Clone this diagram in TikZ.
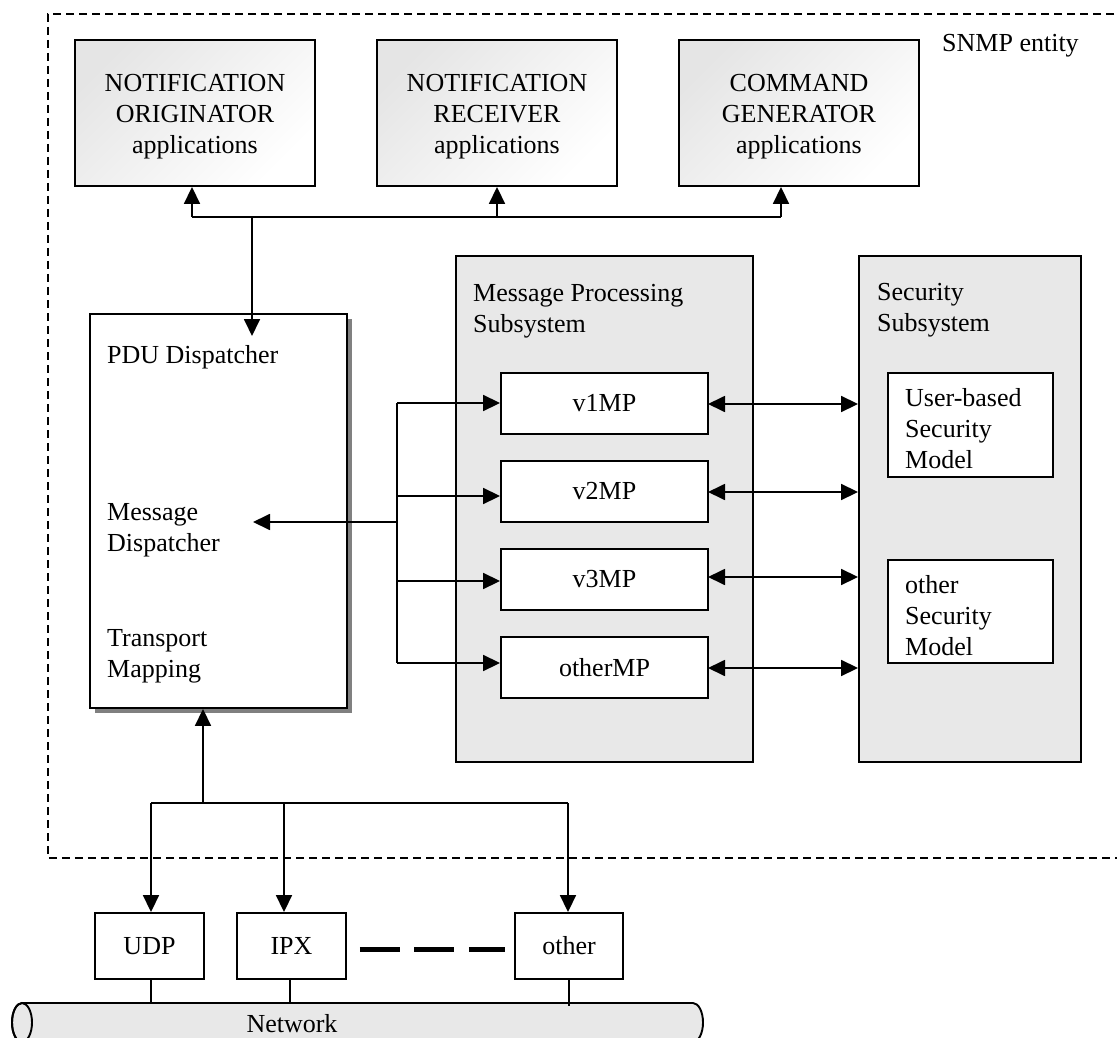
\documentclass[tikz,border=0pt]{standalone}
\usepackage{fontspec}
\setmainfont{Liberation Serif}
\usetikzlibrary{arrows.meta,calc}
\definecolor{subgray}{HTML}{E8E8E8}
\definecolor{shadowgray}{HTML}{808080}
\tikzset{
  txt/.style={font=\fontsize{26}{31}\selectfont, inner sep=0pt},
  boxline/.style={draw=black, line width=1.9pt},
  appbox/.style={boxline, minimum width=240pt, minimum height=146pt,
    top color=black!10, bottom color=white, shading angle=45},
  apptext/.style={txt, align=center},
  mpbox/.style={boxline, txt, fill=white, minimum width=207pt, minimum height=61pt},
  secbox/.style={boxline, fill=white, minimum width=165pt},
  subsys/.style={boxline, fill=subgray},
  tpbox/.style={boxline, txt, fill=white, minimum width=109pt, minimum height=66pt},
  lbl/.style={txt, align=left, anchor=west},
  conn/.style={line width=1.8pt},
  arr/.style={conn, -{Triangle[length=17pt,width=16pt]}},
  darr/.style={conn, {Triangle[length=17pt,width=16pt]}-{Triangle[length=17pt,width=16pt]}},
}
\begin{document}
\begin{tikzpicture}[x=1pt,y=-1pt]
\useasboundingbox (0,0) rectangle (1117,1038);
\clip (0,0) rectangle (1117,1038);

% SNMP entity dashed frame
\draw[line width=1.7pt, dash pattern=on 8pt off 5pt] (1140,14) -- (48,14) -- (48,858) -- (1140,858);
\node[lbl] (snmp) at (942,46) {SNMP entity};

% application boxes
\node[appbox] (noa) at (195,113) {};
\node[apptext] (noat) at (195,117) {NOTIFICATION\\ORIGINATOR\\applications};
\node[appbox] (nra) at (497,113) {};
\node[apptext] (nrat) at (497,117) {NOTIFICATION\\RECEIVER\\applications};
\node[appbox] (cga) at (799,113) {};
\node[apptext] (cgat) at (799,117) {COMMAND\\GENERATOR\\applications};

% subsystems
\node[subsys, minimum width=297pt, minimum height=506pt] (mps) at (604.5,509) {};
\node[lbl] (mpslbl) at (473,311) {Message Processing\\Subsystem};
\node[subsys, minimum width=222pt, minimum height=506pt] (ss) at (970,509) {};
\node[lbl] (sslbl) at (877,310) {Security\\Subsystem};

% PDU dispatcher with shadow
\fill[shadowgray] (95,319) rectangle (352,713);
\node[boxline, fill=white, minimum width=257pt, minimum height=394pt] (pdu) at (218.5,511) {};
\node[lbl] (pdulbl) at (107,357) {PDU Dispatcher};
\node[lbl] (msglbl) at (107,530) {Message\\Dispatcher};
\node[lbl] (tmlbl) at (107,656) {Transport\\Mapping};

% message processing models
\node[mpbox] (v1) at (604.5,403.5) {v1MP};
\node[mpbox] (v2) at (604.5,491.5) {v2MP};
\node[mpbox] (v3) at (604.5,579.5) {v3MP};
\node[mpbox] (vo) at (604.5,667.5) {otherMP};

% security models
\node[secbox, minimum height=104pt] (usm) at (970.5,425) {};
\node[lbl] (usmt) at (905,429) {User-based\\Security\\Model};
\node[secbox, minimum height=103pt] (osm) at (970.5,611.5) {};
\node[lbl] (osmt) at (905,616) {other\\Security\\Model};

% application connectors
\coordinate (j1) at (192,217);
\coordinate (j2) at (252,217);
\coordinate (j3) at (781,217);
\coordinate (pdutip) at (252,336);
\draw[conn] (j1) -- (j3);
\draw[arr] (j1) -- (j1 |- noa.south);
\draw[arr] (nra.south |- j1) -- (nra.south);
\draw[arr] (j3) -- (j3 |- cga.south);
\draw[arr] (j2) -- (pdutip);

% message dispatcher bus
\coordinate (bt) at (397,403);
\coordinate (b2) at (397,496);
\coordinate (b3) at (397,581);
\coordinate (bb) at (397,663);
\coordinate (bm) at (397,522);
\coordinate (msgtip) at (253,522);
\draw[conn] (bt) -- (bb);
\draw[arr] (bt) -- (bt -| v1.west);
\draw[arr] (b2) -- (b2 -| v2.west);
\draw[arr] (b3) -- (b3 -| v3.west);
\draw[arr] (bb) -- (bb -| vo.west);
\draw[arr] (bm) -- (msgtip);

% MP <-> security
\coordinate (s1) at (708,404);
\coordinate (s2) at (708,492);
\coordinate (s3) at (708,577);
\coordinate (s4) at (708,668);
\draw[darr] (s1) -- (s1 -| ss.west);
\draw[darr] (s2) -- (s2 -| ss.west);
\draw[darr] (s3) -- (s3 -| ss.west);
\draw[darr] (s4) -- (s4 -| ss.west);

% transports
\node[tpbox] (udp) at (149.5,946) {UDP};
\node[tpbox] (ipx) at (291.5,946) {IPX};
\node[tpbox, minimum width=108pt] (oth) at (569,946) {other};
\coordinate (tj) at (203,803);
\coordinate (tl) at (151,803);
\coordinate (tm) at (284,803);
\coordinate (tr) at (568,803);
\draw[arr] (tj) -- (tj |- pdu.south);
\draw[conn] (tl) -- (tr);
\draw[arr] (tl) -- (tl |- udp.north);
\draw[arr] (tm) -- (tm |- ipx.north);
\draw[arr] (tr) -- (tr |- oth.north);
\draw[line width=5pt, dash pattern=on 40pt off 14.5pt] ($(ipx.east)+(13,3)$) -- ($(oth.west)+(-9,3)$);

% network cylinder
\filldraw[boxline, fill=subgray] (22,1003) -- (693,1003)
  arc[start angle=-90, end angle=90, x radius=10, y radius=19.5]
  -- (22,1042)
  arc[start angle=90, end angle=270, x radius=10, y radius=19.5] -- cycle;
\draw[boxline] (22,1022.5) ellipse[x radius=10, y radius=19.5];
\node[txt] (net) at (292,1024) {Network};
\draw[conn] (udp.south -| tl) -- ++(0,24);
\draw[conn] (290,979) -- (290,1003);
\draw[conn] (oth.south) -- (569,1006);
\end{tikzpicture}
\end{document}
